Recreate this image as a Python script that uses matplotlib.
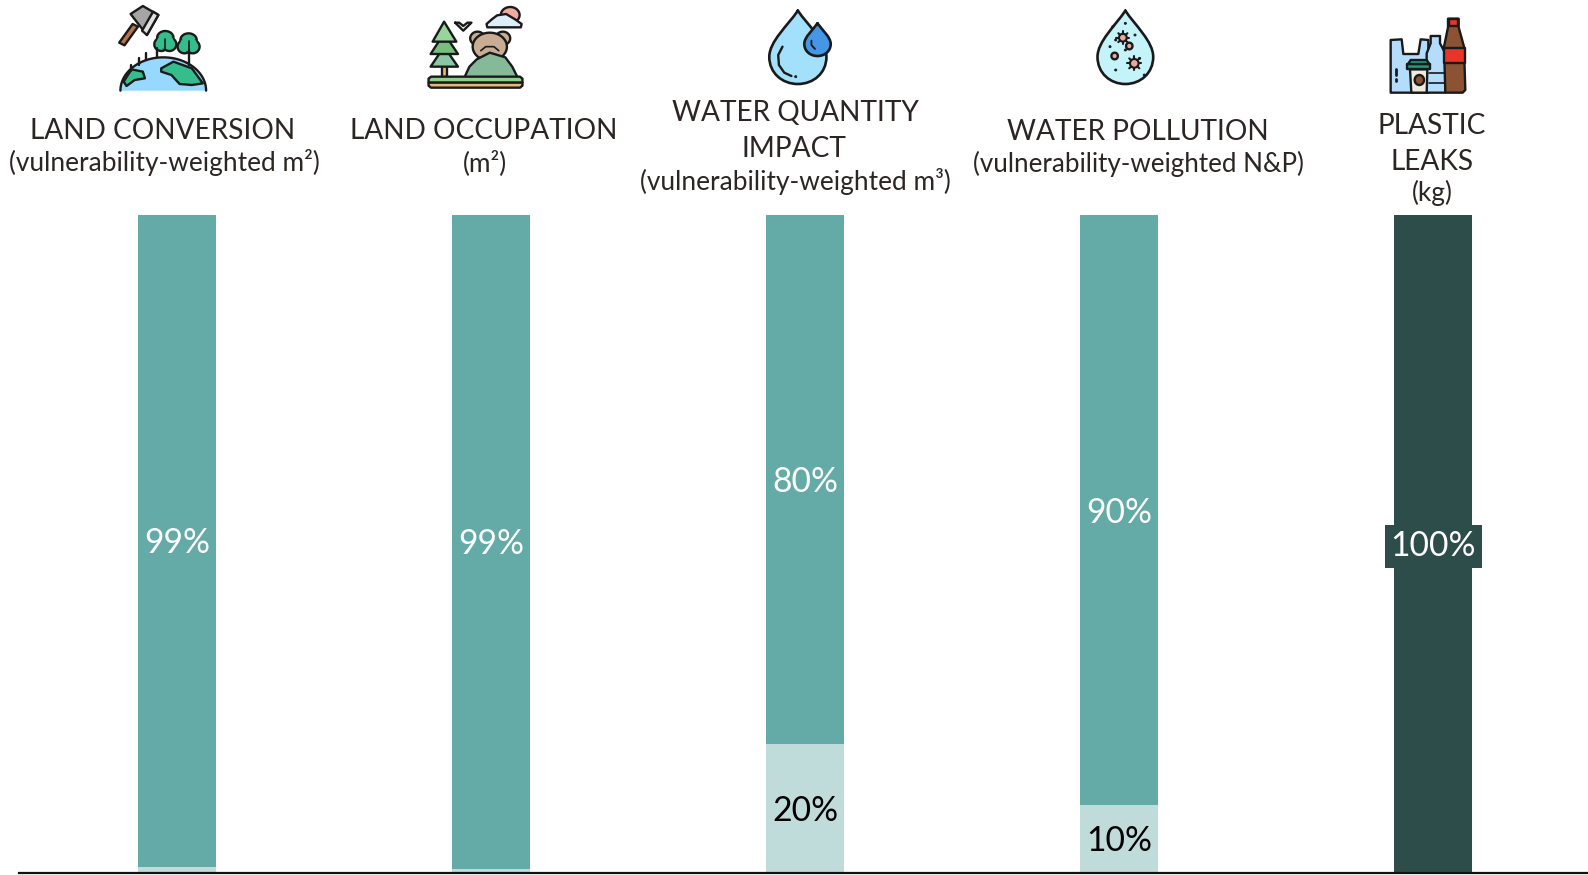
import numpy as np
import matplotlib
matplotlib.use('Agg')
import matplotlib.pyplot as plt
from matplotlib.patches import PathPatch, Polygon
from matplotlib.path import Path

plt.rcParams['font.family'] = ['Lato', 'DejaVu Sans']

# data (% of each impact)
categories = ['Land conversion', 'Land occupation', 'Water quantity impact',
              'Water pollution', 'Plastic leaks']
upper_share = [99.1, 99.4, 80.5, 89.8, 100.0]
lower_share = [0.9, 0.6, 19.5, 10.2, 0.0]
upper_labels = ['99%', '99%', '80%', '90%', '100%']
lower_labels = ['', '', '20%', '10%', '']

TEAL = '#64AAA6'
LIGHT = '#BFDBDA'
DARK = '#2D4D4B'
TEXT = '#2B2523'
INK = '#1a1a1a'
W, H = 1588, 875

fig = plt.figure(figsize=(W / 100, H / 100), dpi=100)

# bars
ax = fig.add_axes([19 / W, (H - 872.5) / H, (W - 19) / W, 657 / H])
x = np.arange(len(categories))
bar_colors = [TEAL, TEAL, TEAL, TEAL, DARK]
ax.bar(x, lower_share, width=0.248, color=LIGHT)
ax.bar(x, upper_share, width=0.248, bottom=lower_share, color=bar_colors)
ax.set_xlim(-0.504, 4.493)
ax.set_ylim(0, 100)
ax.set_yticks([])
ax.set_xticks([])
for side in ['top', 'left', 'right']:
    ax.spines[side].set_visible(False)
ax.spines['bottom'].set_linewidth(1.6)
ax.spines['bottom'].set_color('#111111')

for i in x:
    mid = lower_share[i] + upper_share[i] / 2
    box = None
    if upper_share[i] == 100:
        box = dict(boxstyle='square,pad=0.17', fc=DARK, ec='none')
    ax.annotate(upper_labels[i], (i, mid), xytext=(0, -1.6), textcoords='offset points',
                color='white', fontsize=24.2, ha='center', va='center', bbox=box)
    if lower_labels[i]:
        ax.annotate(lower_labels[i], (i, lower_share[i] / 2), xytext=(0, -1.6),
                    textcoords='offset points', color='black', fontsize=24.2,
                    ha='center', va='center')

# overlay in pixels for the headers and icons
ov = fig.add_axes([0, 0, 1, 1], zorder=5)
ov.set_xlim(0, W)
ov.set_ylim(H, 0)
ov.axis('off')
ov.patch.set_alpha(0)

headers = [
    (163, 139, 'LAND CONVERSION', 20.2), (164.5, 171, '(vulnerability-weighted m²)', 18.9),
    (484, 139, 'LAND OCCUPATION', 20.2), (485, 171, '(m²)', 18.9),
    (795, 121, 'WATER QUANTITY', 20.2), (794, 157, 'IMPACT', 20.2),
    (795, 190, '(vulnerability-weighted m³)', 18.9),
    (1138, 139.5, 'WATER POLLUTION', 20.2), (1138, 172, '(vulnerability-weighted N&P)', 18.7),
    (1432, 134, 'PLASTIC', 20.2), (1432, 170, 'LEAKS', 20.2), (1432, 201, '(kg)', 18.9),
]
for hx, hy, s, size in headers:
    ov.text(hx, hy, s, ha='center', va='baseline', fontsize=size, color=TEXT)


def shape(verts, codes, fc, ox, sx, lw=1.7):
    verts = np.array(verts, dtype=float)
    verts = np.column_stack([ox + verts[:, 0] / sx, verts[:, 1] / 3])
    ov.add_patch(PathPatch(Path(verts, codes), fc=fc, ec=INK, lw=lw,
                           capstyle='round', joinstyle='round'))


def poly(pts, fc, ox, sx, lw=1.7, ec=INK):
    pts = np.array(pts, dtype=float)
    pts = np.column_stack([ox + pts[:, 0] / sx, pts[:, 1] / 3])
    ov.add_patch(Polygon(pts, closed=True, fc=fc, ec=ec, lw=lw, joinstyle='round'))


def line(pts, ox, sx, lw=1.7, color=INK):
    pts = np.array(pts, dtype=float)
    ov.plot(ox + pts[:, 0] / sx, pts[:, 1] / 3, color=color, lw=lw, solid_capstyle='round')


def blob(cx, cy, rx, ry, fc, ox, sx, lw=1.7, a0=0, a1=360, ec=INK):
    t = np.radians(np.linspace(a0, a1, 50))
    poly(np.column_stack([cx + rx * np.cos(t), cy - ry * np.sin(t)]), fc, ox, sx, lw, ec)


def drop(cx, top, bottom, hw, fc, ox, sx):
    h = bottom - top
    v = [(cx, top),
         (cx + .35 * hw, top + .2 * h), (cx + hw, top + .42 * h), (cx + hw, top + .63 * h),
         (cx + hw, top + .85 * h), (cx + .55 * hw, bottom), (cx, bottom),
         (cx - .55 * hw, bottom), (cx - hw, top + .85 * h), (cx - hw, top + .63 * h),
         (cx - hw, top + .42 * h), (cx - .35 * hw, top + .2 * h), (cx, top)]
    shape(v, [Path.MOVETO] + [Path.CURVE4] * 12, fc, ox, sx, lw=1.9)


def virus(cx, cy, r, ox, sx):
    for a in np.radians(np.arange(0, 360, 45)):
        line([(cx + r * 1.2 * np.cos(a), cy + r * 1.3 * np.sin(a)),
              (cx + r * 2 * np.cos(a), cy + r * 2.1 * np.sin(a))], ox, sx, lw=1.5)
    blob(cx, cy, r * 1.2, r * 1.3, '#F0A79B', ox, sx, lw=1.5)


# land conversion icon
sx1 = 2.45
line([(385, 145), (385, 172)], 0, sx1)
line([(462, 150), (462, 195)], 0, sx1)
for tx, ty in [(405, 125), (462, 132)]:
    blob(tx, ty - 12, 20, 20, '#34BE8E', 0, sx1)
    blob(tx - 10, ty + 8, 17, 20, '#34BE8E', 0, sx1)
    blob(tx + 10, ty + 8, 17, 20, '#34BE8E', 0, sx1)
    blob(tx, ty, 20, 22, '#34BE8E', 0, sx1, lw=0, ec='#34BE8E')
    line([(tx, ty - 8), (tx, ty + 22)], 0, sx1, lw=1.2)
line([(340, 175), (340, 195)], 0, sx1)
line([(358, 160), (358, 180)], 0, sx1)
line([(322, 195), (322, 212)], 0, sx1)
blob(400, 272, 105, 100, '#97D8FF', 0, sx1, a0=0, a1=180, ec='#97D8FF', lw=0)
t = np.radians(np.linspace(0, 180, 40))
line(np.column_stack([400 + 105 * np.cos(t), 272 - 100 * np.sin(t)]), 0, sx1)
poly([(395, 205), (425, 185), (470, 205), (497, 250), (470, 255), (440, 252), (420, 225), (395, 215)],
     '#34BE8E', 0, sx1)
poly([(322, 208), (350, 215), (355, 235), (330, 240), (310, 258), (303, 245)], '#34BE8E', 0, sx1)
poly([(292, 128), (325, 72), (338, 80), (305, 136)], '#B5764A', 0, sx1)
poly([(320, 42), (350, 18), (388, 45), (360, 105)], '#A5A5A5', 0, sx1)
poly([(375, 35), (388, 45), (360, 105), (348, 92)], '#E2E2E2', 0, sx1)

# land occupation icon
sx2 = 2.45
poly([(1082, 195), (1096, 195), (1096, 232), (1082, 232)], '#E4B77F', 0, sx2)
poly([(1088, 140), (1122, 200), (1055, 200)], '#8BC7A5', 0, sx2)
poly([(1088, 100), (1122, 162), (1055, 162)], '#77BE7F', 0, sx2)
poly([(1088, 65), (1118, 125), (1060, 125)], '#97D69A', 0, sx2)
blob(1170, 115, 18, 20, '#C8AD94', 0, sx2)
blob(1232, 115, 18, 20, '#C8AD94', 0, sx2)
blob(1200, 140, 42, 42, '#C8AD94', 0, sx2)
line([(1178, 152), (1190, 140), (1210, 140), (1222, 152)], 0, sx2, lw=1.2)
poly([(1138, 232), (1150, 200), (1168, 178), (1200, 158), (1238, 172), (1255, 200), (1268, 232)],
     '#86B89A', 0, sx2)
poly([(1056, 230), (1274, 230), (1280, 236), (1280, 248), (1050, 248), (1050, 236)], '#8FD08F', 0, sx2)
poly([(1050, 248), (1280, 248), (1280, 257), (1274, 263), (1056, 263), (1050, 257)], '#E4B77F', 0, sx2)
line([(1115, 68), (1135, 92), (1155, 68), (1145, 68), (1135, 78), (1125, 68), (1115, 68)], 0, sx2)
blob(1250, 45, 23, 24, '#F2A9A0', 0, sx2)
cloud_x = np.array([1192, 1205, 1218, 1240, 1262, 1278, 1276, 1194])
cloud_y = np.array([72, 58, 46, 42, 58, 72, 82, 82])
poly(np.column_stack([cloud_x, cloud_y]), '#DCEEFA', 0, sx2)

# water quantity icon
sx3 = 2.8
drop(498, 32, 252, 80, '#A3E0FC', 620, sx3)
line([(455, 140), (443, 165), (445, 195), (460, 218), (480, 228)], 620, sx3)
blob(492, 230, 3, 3, INK, 620, sx3, lw=0.6)
drop(553, 70, 168, 37, '#4596E5', 620, sx3)
line([(536, 122), (536, 135), (546, 147)], 620, sx3, lw=1.3)

# water pollution icon
drop(1415, 32, 252, 78, '#C5F3FA', 620, sx3)
virus(1408, 113, 9, 620, sx3)
virus(1440, 190, 10, 620, sx3)
blob(1385, 168, 9, 10, '#F0A79B', 620, sx3)
blob(1426, 138, 9, 10, '#F0A79B', 620, sx3)
dots_x = [1415, 1380, 1442, 1372, 1415, 1388, 1388, 1468, 1455]
dots_y = [70, 80, 105, 140, 150, 210, 120, 225, 175]
for dx, dy in zip(dots_x, dots_y):
    blob(dx, dy, 3, 3, INK, 620, sx3, lw=0.6)

# plastic icon
sx5 = 3
poly([(272, 120), (305, 118), (310, 162), (355, 162), (362, 118), (385, 120), (385, 278), (272, 278)],
     '#B4DCFC', 1300, sx5)
line([(288, 206), (288, 226)], 1300, sx5, lw=2)
line([(288, 238), (288, 243)], 1300, sx5, lw=2)
poly([(392, 108), (420, 108), (420, 130), (436, 160), (436, 278), (380, 278), (380, 160), (392, 130)],
     '#B4DCFC', 1300, sx5)
line([(386, 220), (434, 220)], 1300, sx5, lw=1.2)
line([(386, 250), (434, 250)], 1300, sx5, lw=1.2)
poly([(444, 56), (476, 56), (476, 82), (492, 140), (496, 270), (488, 278), (436, 278), (432, 140), (444, 82)],
     '#8B5233', 1300, sx5)
poly([(432, 143), (494, 143), (494, 188), (432, 188)], '#E8342A', 1300, sx5)
poly([(446, 58), (474, 58), (474, 78), (446, 78)], '#E8342A', 1300, sx5)
poly([(330, 208), (382, 208), (380, 278), (334, 278)], '#EFEBE0', 1300, sx5)
poly([(322, 192), (390, 192), (390, 208), (322, 208)], '#1E9C7F', 1300, sx5)
poly([(332, 180), (380, 180), (388, 192), (324, 192)], '#1E9C7F', 1300, sx5)
blob(358, 240, 14, 15, '#8B5233', 1300, sx5)

fig.savefig('out.png', dpi=100, facecolor='white')
